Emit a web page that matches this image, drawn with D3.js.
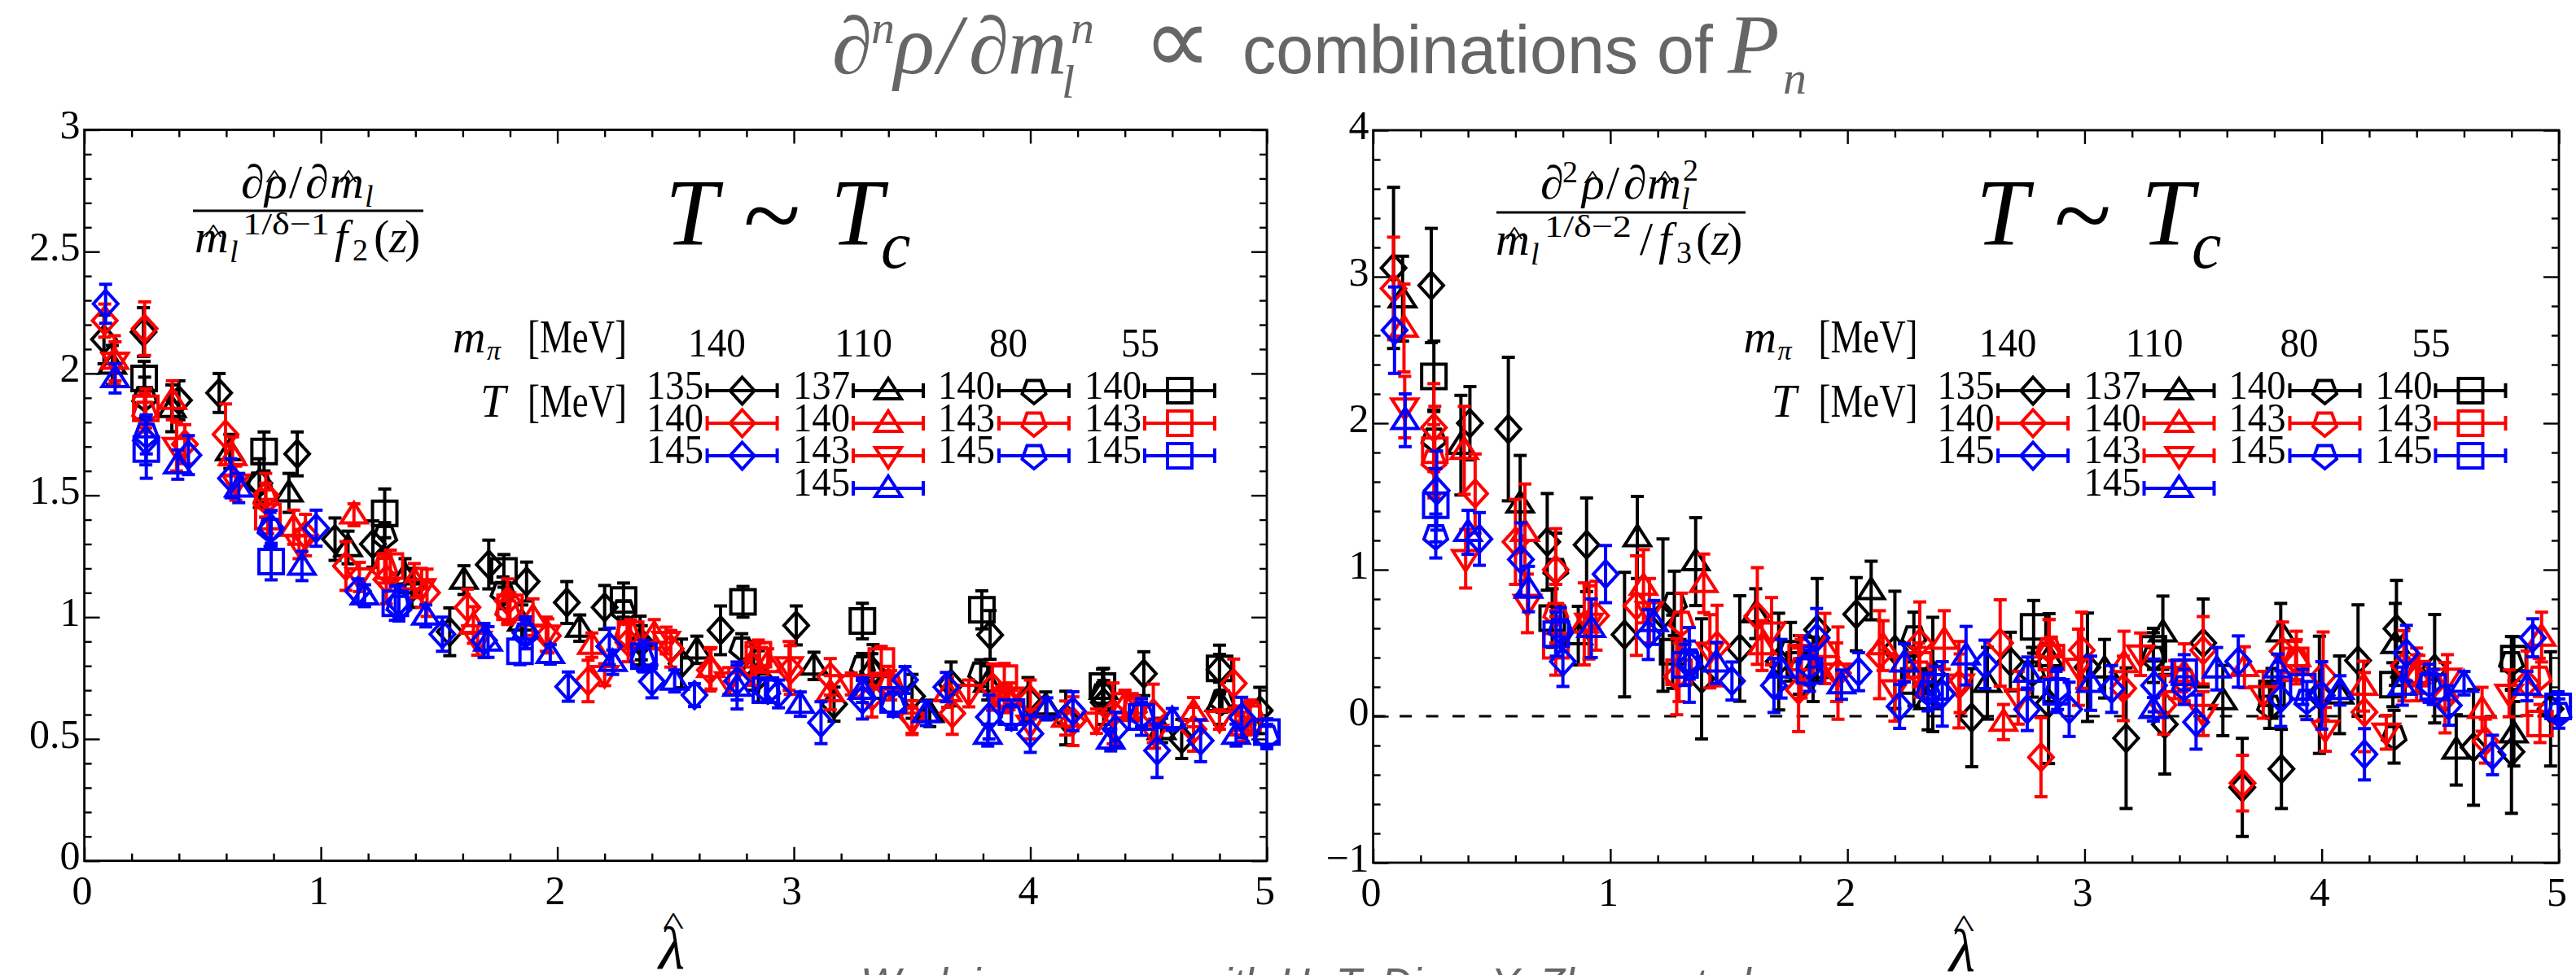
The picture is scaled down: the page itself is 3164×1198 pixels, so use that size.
<!DOCTYPE html>
<html><head><meta charset="utf-8">
<script src="https://cdn.jsdelivr.net/npm/d3@7/dist/d3.min.js"></script>
<style>html,body{margin:0;padding:0;background:#fff;overflow:hidden}svg{display:block}</style>
</head><body><svg id="c" width="3164" height="1198"></svg>
<script>
// ---- data: each entry is [lambda, value, error] ----
const L_D135=[[.083,2.14,.1],[.25,2.17,.1],[.40,1.89,.08],[.57,1.92,.08],[.74,1.55,.1],[.90,1.67,.09],[1.06,1.32,.087],[1.22,1.30,.095],[1.385,1.12,.08],[1.545,.94,.098],[1.71,1.216,.1],[1.87,1.146,.08],[2.04,1.06,.086],[2.2,1.04,.09],[2.355,.895,.07],[2.525,.81,.1],[2.69,.946,.1],[2.85,.757,.105],[3.01,.966,.08],[3.17,.643,.07],[3.335,.777,.11],[3.5,.675,.09],[3.665,.726,.09],[3.83,.927,.1],[3.99,.662,.09],[4.15,.586,.11],[4.31,.65,.09],[4.48,.768,.09],[4.64,.5,.08],[4.8,.785,.1],[4.97,.617,.095]];
const L_D140=[[.086,2.217,.068],[.255,2.184,.11],[.425,1.71,.08],[.597,1.75,.125],[.767,1.5,.09],[.935,1.337,.085],[1.106,1.21,.1],[1.277,1.155,.1],[1.449,1.1,.097],[1.62,1.04,.075],[1.79,1.067,.09],[1.96,.923,.07],[2.13,.738,.085],[2.3,.897,.08],[2.48,.87,.075],[2.645,.783,.086],[2.82,.8,.08],[2.985,.783,.1],[3.154,.755,.075],[3.33,.675,.085],[3.5,.59,.067],[3.67,.605,.086],[3.84,.713,.095],[4.0,.662,.08],[4.18,.573,.1],[4.35,.605,.125],[4.52,.605,.12],[4.69,.54,.09],[4.86,.728,.1]];
const L_D145=[[.09,2.286,.08],[.26,1.725,.1],[.44,1.665,.08],[.62,1.57,.08],[.79,1.365,.073],[.98,1.365,.074],[1.157,1.107,.05],[1.33,1.063,.067],[1.514,.93,.07],[1.69,.904,.07],[1.865,.936,.065],[2.046,.715,.06],[2.22,.88,.075],[2.4,.736,.067],[2.58,.68,.047],[2.76,.738,.078],[2.935,.685,.057],[3.115,.567,.086],[3.29,.662,.08],[3.47,.742,.055],[3.645,.713,.06],[3.825,.59,.09],[4.0,.522,.077],[4.18,.614,.08],[4.36,.54,.07],[4.536,.452,.11],[4.72,.493,.086],[4.894,.588,.083]];
const L_U137=[[.118,2.035,.08],[.37,1.857,.096],[.615,1.68,.07],[.865,1.51,.08],[1.115,1.286,.067],[1.356,1.17,.07],[1.605,1.152,.059],[1.85,.98,.07],[2.095,.955,.054],[2.35,.904,.1],[2.59,.866,.056],[2.83,.8,.1],[3.085,.8,.056],[3.33,.79,.06],[3.575,.605,.054],[3.82,.73,.07],[4.065,.636,.057],[4.31,.7,.09],[4.555,.535,.05],[4.8,.65,.09]];
const L_U140=[[.127,2.055,.1],[.372,1.89,.08],[.627,1.66,.08],[.885,1.369,.07],[1.14,1.42,.045],[1.395,1.15,.07],[1.645,.968,.075],[1.897,1.0,.075],[2.146,.885,.05],[2.41,.93,.06],[2.65,.79,.085],[2.89,.81,.06],[3.154,.69,.07],[3.4,.738,.06],[3.65,.69,.06],[3.9,.668,.06],[4.15,.586,.07],[4.4,.64,.06],[4.69,.61,.06],[4.9,.55,.06]];
const L_N143=[[.13,2.05,.08],[.39,1.7,.1],[.64,1.55,.07],[.908,1.3,.06],[1.163,1.165,.06],[1.426,1.12,.08],[1.663,.904,.06],[1.953,.93,.07],[2.2,.764,.045],[2.46,.904,.055],[2.725,.738,.055],[2.98,.8,.1],[3.243,.726,.045],[3.5,.573,.055],[3.74,.687,.055],[3.91,.675,.055],[4.0,.56,.06],[4.28,.573,.05],[4.525,.522,.06],[4.8,.58,.04]];
const L_U145=[[.13,1.98,.06],[.395,1.626,.06],[.653,1.53,.06],[.92,1.21,.06],[1.185,1.088,.045],[1.444,1.005,.045],[1.707,.898,.063],[1.97,.847,.04],[2.234,.815,.05],[2.496,.738,.045],[2.76,.713,.09],[3.027,.643,.05],[3.29,.7,.05],[3.56,.605,.05],[3.82,.516,.045],[4.07,.624,.045],[4.34,.496,.045],[4.6,.58,.045],[4.87,.516,.045]];
const L_P140=[[.255,1.9,.085],[.74,1.55,.08],[1.27,1.33,.058],[1.77,1.1,.065],[2.28,1.025,.04],[2.78,.872,.06],[3.29,.796,.055],[3.79,.77,.055],[4.305,.68,.05],[4.81,.655,.045]];
const L_P143=[[.255,1.84,.08],[.767,1.48,.07],[1.27,1.2,.06],[1.79,1.025,.055],[2.295,.93,.05],[2.855,.834,.06],[3.41,.72,.06],[3.89,.675,.05],[4.44,.624,.05],[4.93,.61,.05]];
const L_P145=[[.262,1.75,.08],[.785,1.36,.07],[1.33,1.044,.06],[1.865,.93,.06],[2.36,.83,.05],[2.89,.7,.05],[3.42,.643,.05],[3.92,.59,.05],[4.47,.6,.05],[5.0,.51,.05]];
const L_S140=[[.253,1.98,.07],[.76,1.68,.08],[1.27,1.426,.1],[1.774,1.19,.067],[2.28,1.07,.07],[2.785,1.063,.063],[3.29,.984,.073],[3.795,1.03,.078],[4.305,.717,.07],[4.8,.79,.057]];
const L_S143=[[.26,1.857,.08],[.776,1.413,.07],[1.294,1.21,.065],[1.8,1.04,.06],[2.31,.93,.06],[2.85,.846,.06],[3.37,.82,.06],[3.89,.75,.06],[4.4,.636,.06],[4.92,.585,.06]];
const L_S145=[[.262,1.69,.12],[.79,1.228,.075],[1.315,1.057,.07],[1.842,.86,.055],[2.366,.84,.065],[2.88,.7,.05],[3.42,.66,.05],[3.92,.61,.05],[4.47,.59,.075],[5.0,.528,.055]];

const R_D135=[[.086,3.06,.55],[.245,2.94,.39],[.408,2.0,.25],[.57,1.96,.49],[.734,1.19,.33],[.9,1.17,.32],[1.06,.557,.425],[1.222,.69,.52],[1.385,.255,.41],[1.546,.462,.36],[1.71,.373,.33],[1.872,.59,.35],[2.037,.696,.25],[2.2,.453,.4],[2.36,.285,.39],[2.524,-.01,.335],[2.687,.373,.2],[2.848,.087,.41],[3.012,.334,.37],[3.175,-.15,.48],[3.338,-.055,.34],[3.5,.5,.3],[3.665,-.486,.335],[3.83,-.36,.27],[3.99,.146,.4],[4.153,.38,.38],[4.315,.597,.33],[4.476,.324,.37],[4.64,-.213,.395],[4.8,-.243,.42],[4.965,.05,.39]];
const R_D140=[[.086,2.92,.35],[.256,1.97,.3],[.43,1.52,.27],[.6,1.19,.29],[.77,1.0,.28],[.94,.686,.235],[1.11,.755,.34],[1.28,.27,.26],[1.45,.482,.275],[1.62,.684,.33],[1.794,.18,.285],[1.96,.294,.315],[2.135,.42,.3],[2.305,.5,.28],[2.47,.215,.295],[2.644,.5,.295],[2.816,-.28,.27],[2.988,.45,.26],[3.163,.19,.22],[3.333,.077,.2],[3.5,.45,.23],[3.666,-.457,.19],[3.835,.443,.2],[4.006,.275,.3],[4.18,.028,.27],[4.346,.344,.24],[4.52,.126,.24],[4.69,-.17,.15],[4.865,.225,.22]];
const R_D145=[[.09,2.635,.295],[.268,1.54,.27],[.448,1.21,.18],[.623,1.07,.25],[.8,.373,.17],[.98,.97,.195],[1.16,.557,.17],[1.333,.35,.255],[1.513,.24,.13],[1.69,.21,.185],[1.87,.535,.2],[2.047,.304,.13],[2.22,.067,.15],[2.4,.152,.22],[2.58,.354,.165],[2.758,.047,.145],[2.935,.047,.185],[3.114,.186,.16],[3.293,.21,.18],[3.47,-.04,.185],[3.648,.373,.175],[3.827,.12,.19],[4.0,.142,.23],[4.18,-.26,.175],[4.357,.43,.19],[4.536,.073,.135],[4.72,-.265,.135],[4.89,.535,.13]];
const R_U137=[[.124,2.85,.29],[.37,1.85,.34],[.62,1.45,.33],[.865,.55,.2],[1.114,1.22,.28],[1.36,1.055,.3],[1.613,.7,.17],[1.855,.32,.22],[2.1,.858,.2],[2.34,.107,.2],[2.59,.225,.245],[2.85,.4,.3],[3.084,.324,.2],[3.33,.57,.25],[3.583,.107,.24],[3.827,.57,.2],[4.075,.146,.265],[4.31,.49,.28],[4.567,-.23,.24],[4.81,-.12,.22]];
const R_U140=[[.13,2.65,.3],[.384,1.815,.3],[.64,1.255,.33],[.89,.63,.28],[1.14,.887,.25],[1.394,.907,.2],[1.64,.482,.17],[1.905,.462,.24],[2.15,.482,.17],[2.408,.52,.2],[2.658,-.04,.12],[2.85,.46,.2],[3.166,.36,.22],[3.42,.294,.2],[3.674,.334,.14],[3.893,.4,.18],[4.176,.205,.17],[4.4,.285,.18],[4.676,.047,.15],[4.927,.54,.17]];
const R_N143=[[.133,2.11,.21],[.39,1.075,.2],[.65,.77,.2],[.91,.64,.25],[1.165,.72,.22],[1.42,.443,.25],[1.68,.58,.23],[1.955,.3,.2],[2.2,.186,.22],[2.475,.225,.2],[2.72,.126,.18],[2.974,.334,.26],[3.236,.423,.145],[3.5,.018,.15],[3.753,.146,.16],[4.015,-.09,.15],[4.272,-.11,.115],[4.53,.265,.155],[4.79,.156,.16]];
const R_U145=[[.135,2.02,.18],[.4,1.255,.15],[.655,.868,.155],[.92,.6,.2],[1.184,.64,.15],[1.447,.364,.14],[1.72,.324,.2],[1.975,.215,.1],[2.24,.364,.13],[2.5,.413,.2],[2.76,.294,.11],[3.026,.225,.185],[3.29,.047,.08],[3.557,.324,.145],[3.814,.324,.1],[4.077,.176,.1],[4.34,.205,.13],[4.6,.225,.08],[4.865,.205,.1]];
const R_P140=[[.256,1.89,.2],[.77,1.0,.25],[1.27,.77,.22],[1.76,.44,.2],[2.28,.54,.17],[2.78,.3,.17],[3.29,.4,.17],[3.78,.067,.15],[4.305,-.14,.18],[4.8,.364,.18]];
const R_P143=[[.256,1.74,.25],[.77,.7,.2],[1.3,.64,.2],[1.805,.324,.2],[2.305,.3,.17],[2.85,.46,.2],[3.42,.245,.14],[3.893,.383,.14],[4.41,.285,.13],[4.917,.265,.13]];
const R_P145=[[.264,1.23,.15],[.79,.59,.15],[1.333,.383,.13],[1.84,.344,.13],[2.34,.166,.13],[2.886,.186,.14],[3.42,.2,.12],[3.937,.107,.13],[4.453,.225,.13],[5.0,.018,.1]];
const R_S140=[[.256,2.32,.24],[.755,.67,.2],[1.263,.44,.25],[1.797,.35,.2],[2.28,.24,.17],[2.785,.61,.18],[3.29,.46,.14],[3.79,.156,.17],[4.3,.215,.15],[4.81,.393,.15]];
const R_S143=[[.26,1.815,.3],[.77,.48,.2],[1.29,.3,.2],[1.805,.4,.15],[2.3,.35,.15],[2.86,.4,.14],[3.38,.25,.13],[3.89,.38,.13],[4.4,.29,.13],[4.92,-.05,.13]];
const R_S145=[[.264,1.44,.25],[.772,.56,.15],[1.315,.35,.14],[1.84,.31,.14],[2.37,.2,.14],[2.88,.166,.14],[3.42,.3,.12],[3.92,.2,.12],[4.47,.2,.12],[4.997,.067,.1]];

const xTicksMajor=[0,1,2,3,4,5];
const xTicksMinor=d3.range(0,25).map(i=>i/5).filter(v=>v%1!==0);
const yLeftMajor=[0,.5,1,1.5,2,2.5,3];
const yLeftMinor=[.1,.2,.3,.4,.6,.7,.8,.9,1.1,1.2,1.3,1.4,1.6,1.7,1.8,1.9,2.1,2.2,2.3,2.4,2.6,2.7,2.8,2.9];
const yRightMajor=[-1,0,1,2,3,4];
const yRightMinor=[-.8,-.6,-.4,-.2,.2,.4,.6,.8,1.2,1.4,1.6,1.8,2.2,2.4,2.6,2.8,3.2,3.4,3.6,3.8];
const legendColumnHeads=["140","110","80","55"];
const legendColumns=[
 [["135","D","#000"],["140","D","#f00"],["145","D","#00f"]],
 [["137","U","#000"],["140","U","#f00"],["143","N","#f00"],["145","U","#00f"]],
 [["140","P","#000"],["143","P","#f00"],["145","P","#00f"]],
 [["140","S","#000"],["143","S","#f00"],["145","S","#00f"]]];

const shapes={
 D:[[0,-16.5],[15,0],[0,16.5],[-15,0]],
 U:[[0,-15],[16,10],[-16,10]],
 N:[[0,15],[16,-10],[-16,-10]],
 P:[[-8.5,-12.5],[8.5,-12.5],[14.5,4],[0,16],[-14.5,4]],
 S:[[-15,-15],[15,-15],[15,15],[-15,15]]};
const shapePath=k=>d3.line()(shapes[k])+"Z";
const SW=4,CAP=8;
const SERIF="'Liberation Serif',serif",SANS="'Liberation Sans',sans-serif";
const svg=d3.select("#c");

function text(g,s,x,y,size,o={}){
 const t=g.append("text").attr("x",x).attr("y",y).attr("font-size",size)
  .attr("font-family",o.font||SERIF).attr("font-style",o.italic?"italic":"normal")
  .attr("text-anchor",o.anchor||"start").attr("fill",o.fill||"#000").text(s);
 if(o.len) t.attr("textLength",o.len).attr("lengthAdjust","spacingAndGlyphs");
 return t;
}
function panel(cfg){
 const x=d3.scaleLinear().domain([0,5]).range([cfg.l,cfg.r]);
 const y=d3.scaleLinear().domain(cfg.yd).range([cfg.b,cfg.t]);
 const g=svg.append("g");
 const axis=(gen,tr,vals,len,fmt)=>{
  const a=g.append("g").attr("transform",tr).call(gen.tickValues(vals).tickSizeInner(len).tickSizeOuter(0).tickFormat(fmt||""));
  a.select(".domain").remove();
  a.selectAll("line").attr("stroke","#000").attr("stroke-width",2.4);
  return a;};
 const bt=`translate(0,${cfg.b})`,tt=`translate(0,${cfg.t})`,lt=`translate(${cfg.l},0)`,rt=`translate(${cfg.r},0)`;
 const ab=axis(d3.axisBottom(x),bt,xTicksMajor,-17,d3.format("d"));
 ab.selectAll("text").attr("y",cfg.xlab-cfg.b).attr("dy",0).attr("x",-3).attr("font-size",50).attr("font-family",SERIF).attr("fill","#000");
 axis(d3.axisBottom(x),bt,xTicksMinor,-9);
 axis(d3.axisTop(x),tt,xTicksMajor,-17);
 axis(d3.axisTop(x),tt,xTicksMinor,-9);
 const al=axis(d3.axisLeft(y),lt,cfg.yMajor,-19,v=>String(v).replace("-","\u2212"));
 al.selectAll("text").attr("x",-5).attr("y",10).attr("dy",0).attr("font-size",50).attr("font-family",SERIF).attr("fill","#000").attr("text-anchor","end");
 axis(d3.axisLeft(y),lt,cfg.yMinor,-9);
 axis(d3.axisRight(y),rt,cfg.yMajor,-19);
 axis(d3.axisRight(y),rt,cfg.yMinor,-9);
 g.append("rect").attr("x",cfg.l).attr("y",cfg.t).attr("width",cfg.r-cfg.l).attr("height",cfg.b-cfg.t)
  .attr("fill","none").attr("stroke","#000").attr("stroke-width",2.8);
 if(cfg.zero) g.append("line").attr("x1",x(0)).attr("x2",x(5)).attr("y1",y(0)).attr("y2",y(0))
  .attr("stroke","#000").attr("stroke-width",3.2).attr("stroke-dasharray","15 17.5");
 for(const s of cfg.series){
  const sg=g.append("g").attr("stroke",s.c).attr("stroke-width",SW).attr("fill","none");
  const pts=sg.selectAll("g").data(s.d).join("g");
  pts.append("line").attr("x1",d=>x(d[0])).attr("x2",d=>x(d[0])).attr("y1",d=>y(d[1]-d[2])).attr("y2",d=>y(d[1]+d[2]));
  pts.append("line").attr("x1",d=>x(d[0])-CAP).attr("x2",d=>x(d[0])+CAP).attr("y1",d=>y(d[1]-d[2])).attr("y2",d=>y(d[1]-d[2]));
  pts.append("line").attr("x1",d=>x(d[0])-CAP).attr("x2",d=>x(d[0])+CAP).attr("y1",d=>y(d[1]+d[2])).attr("y2",d=>y(d[1]+d[2]));
  pts.append("path").attr("d",shapePath(s.k)).attr("transform",d=>`translate(${x(d[0])},${y(d[1])})`);
 }
 // legend
 const off=cfg.off, L=svg.append("g").attr("transform",`translate(${off},0)`);
 text(L,"m",556,433,56,{italic:true});
 text(L,"\u03c0",598,442,34,{italic:true});
 text(L,"[MeV]",648,433,56,{len:122});
 text(L,"T",590,512,56,{italic:true});
 text(L,"[MeV]",648,512,56,{len:122});
 const headX=[845,1025,1215,1377], labX=[794,974,1152,1332], cx=[911.6,1091,1270,1449], rowBase=[490,530,569,609], rowMid=[480,520,560,600];
 legendColumnHeads.forEach((h,i)=>text(L,h,headX[i],438,50,{len:h.length===3?71:47}));
 legendColumns.forEach((col,i)=>col.forEach((e,j)=>{
  text(L,e[0],labX[i],rowBase[j],50,{len:70});
  const r=L.append("g").attr("stroke",e[2]).attr("stroke-width",SW).attr("fill","none");
  r.append("path").attr("d",`M${cx[i]-43},${rowMid[j]-9}V${rowMid[j]+9}M${cx[i]-43},${rowMid[j]}H${cx[i]+43}M${cx[i]+43},${rowMid[j]-9}V${rowMid[j]+9}`);
  r.append("path").attr("d",shapePath(e[1])).attr("transform",`translate(${cx[i]},${rowMid[j]})`);
 }));
 // T ~ Tc
 const TT=svg.append("g").attr("transform",`translate(${cfg.tOff},0)`);
 text(TT,"T",817,301,116,{italic:true});
 text(TT,"~",913,308,130);
 text(TT,"T",1020,301,116,{italic:true});
 text(TT,"c",1082,329,82,{italic:true});
 // x label
 text(g,"\u03bb",cfg.lam,cfg.lamY,74,{italic:true});
 text(g,"^",cfg.lam+18,cfg.lamY-41,40,{anchor:"middle",len:26});
}
panel({l:103.6,r:1556,t:159.5,b:1057.7,yd:[0,3],yMajor:yLeftMajor,yMinor:yLeftMinor,xlab:1111,off:0,tOff:0,lam:809,lamY:1190,
 series:[{d:L_D135,k:"D",c:"#000"},{d:L_U137,k:"U",c:"#000"},{d:L_P140,k:"P",c:"#000"},{d:L_S140,k:"S",c:"#000"},
  {d:L_S143,k:"S",c:"#f00"},{d:L_P143,k:"P",c:"#f00"},{d:L_N143,k:"N",c:"#f00"},{d:L_U140,k:"U",c:"#f00"},{d:L_D140,k:"D",c:"#f00"},
  {d:L_S145,k:"S",c:"#00f"},{d:L_P145,k:"P",c:"#00f"},{d:L_U145,k:"U",c:"#00f"},{d:L_D145,k:"D",c:"#00f"}]});
panel({l:1686.6,r:3143,t:160,b:1060,yd:[-1,4],yMajor:yRightMajor,yMinor:yRightMinor,xlab:1113,off:1585.5,tOff:1610,zero:true,lam:2394,lamY:1193,
 series:[{d:R_D135,k:"D",c:"#000"},{d:R_U137,k:"U",c:"#000"},{d:R_P140,k:"P",c:"#000"},{d:R_S140,k:"S",c:"#000"},
  {d:R_S143,k:"S",c:"#f00"},{d:R_P143,k:"P",c:"#f00"},{d:R_N143,k:"N",c:"#f00"},{d:R_U140,k:"U",c:"#f00"},{d:R_D140,k:"D",c:"#f00"},
  {d:R_S145,k:"S",c:"#00f"},{d:R_P145,k:"P",c:"#00f"},{d:R_U145,k:"U",c:"#00f"},{d:R_D145,k:"D",c:"#00f"}]});

// fractions
const F=svg.append("g");
const FS=58,SUB=38,SUP=38;
const it={italic:true};
function hat(x,y){text(F,"^",x,y,32,{anchor:"middle",len:22});}
// left
text(F,"\u2202",296,243,FS,it);text(F,"\u03c1",325,243,FS,it);hat(337,230);
text(F,"/",355,243,FS);text(F,"\u2202",375,243,FS,it);text(F,"m",405,243,FS,it);hat(428,230);
text(F,"l",448,254,SUB,it);
F.append("line").attr("x1",237).attr("x2",520).attr("y1",259).attr("y2",259).attr("stroke","#000").attr("stroke-width",3);
text(F,"m",239,310,FS,it);hat(262,297);text(F,"l",282,322,SUB,it);
text(F,"1/\u03b4\u22121",298,288,SUP,{len:107});
text(F,"f",411,310,FS,it);text(F,"2",433,320,SUB);text(F,"(",459,310,FS);text(F,"z",478,310,FS,it);text(F,")",497,310,FS);
// right
text(F,"\u2202",1892,244,FS,it);text(F,"2",1919,224,SUB);text(F,"\u03c1",1943,244,FS,it);hat(1956,231);
text(F,"/",1973,244,FS);text(F,"\u2202",1994,244,FS,it);text(F,"m",2023,244,FS,it);hat(2045,231);
text(F,"2",2067,222,SUB);text(F,"l",2065,257,SUB,it);
F.append("line").attr("x1",1838).attr("x2",2144).attr("y1",261).attr("y2",261).attr("stroke","#000").attr("stroke-width",3);
text(F,"m",1837,313,FS,it);hat(1860,300);text(F,"l",1880,325,SUB,it);
text(F,"1/\u03b4\u22122",1897,291,SUP,{len:107});
text(F,"/",2014,313,FS);text(F,"f",2037,313,FS,it);text(F,"3",2059,323,SUB);text(F,"(",2083,313,FS);text(F,"z",2102,313,FS,it);text(F,")",2121,313,FS);

// title
const T=svg.append("g"),grey="#666";
const tm=(s,x,y,sz)=>text(T,s,x,y,sz,{italic:true,fill:grey});
tm("\u2202",1022,90,100);tm("n",1070,53,58);tm("\u03c1",1098,90,104);tm("/",1152,90,104);tm("\u2202",1190,90,100);tm("m",1238,90,100);tm("n",1315,53,58);tm("l",1304,120,58);
text(T,"\u221d",1404,90,118,{font:"'DejaVu Sans',sans-serif",fill:grey});
text(T,"combinations of",1526,90,82.5,{font:SANS,fill:grey});
tm("P",2122,90,104);tm("n",2190,115,58);
text(svg,"Work in progress with H.-T. Ding, Y. Zhang et al.",1057,1226,52,{font:SANS,italic:true,fill:grey});
</script></body></html>
